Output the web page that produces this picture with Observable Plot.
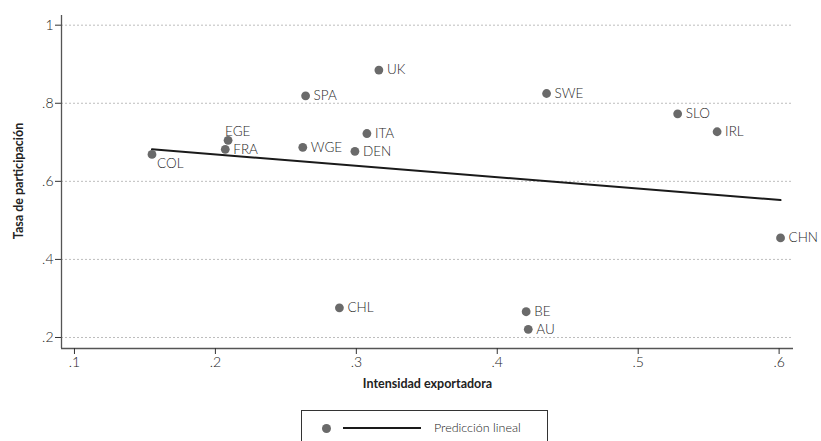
<!DOCTYPE html>
<html>
<head>
<meta charset="utf-8">
<script src="https://cdn.jsdelivr.net/npm/d3@7"></script>
<script src="https://cdn.jsdelivr.net/npm/@observablehq/plot@0.6"></script>
<style>
  body { margin: 0; background: #fff; font-family: Lato, "Open Sans", sans-serif; }
  #wrap { position: relative; width: 821px; height: 441px; overflow: hidden; background: #fff; }
  #ytitle { position: absolute; left: 18px; top: 181px; transform: translate(-50%, -50%) rotate(-90deg); white-space: nowrap; font-weight: bold; font-size: 12.5px; color: #222; font-family: Lato, sans-serif; }
  #legend { position: absolute; left: 301px; top: 410px; width: 247px; height: 42px; border: 1px solid #333; box-sizing: border-box; }
  #legend .dot { position: absolute; left: 20px; top: 13px; width: 9px; height: 9px; border-radius: 50%; background: #6a6a6a; }
  #legend .ln { position: absolute; left: 41px; top: 16px; width: 78px; height: 2px; background: #1a1a1a; }
  #legend .tx { position: absolute; left: 132px; top: 9px; font-size: 12.5px; font-weight: 300; color: #222; font-family: Lato, sans-serif; }
</style>
</head>
<body>
<div id="wrap">
  <div id="chart"></div>
  <div id="ytitle">Tasa de participación</div>
  <div id="legend"><div class="dot"></div><div class="ln"></div><div class="tx">Predicción lineal</div></div>
</div>
<script>
// Data
const countries = ["COL","EGE","FRA","SPA","WGE","UK","ITA","DEN","SWE","SLO","IRL","CHN","CHL","BE","AU"];
const exportIntensity = [0.155,0.209,0.207,0.264,0.262,0.316,0.3075,0.299,0.435,0.528,0.556,0.601,0.288,0.4205,0.422];
const participation = [0.669,0.705,0.682,0.819,0.687,0.885,0.7225,0.677,0.825,0.773,0.727,0.455,0.276,0.266,0.221];
// Linear prediction endpoints
const fitX = [0.155, 0.601];
const fitY = [0.682, 0.552];
const xTicks = [0.1, 0.2, 0.3, 0.4, 0.5, 0.6];
const yTicks = [0.2, 0.4, 0.6, 0.8, 1];
const xDomain = [0.0908, 0.6102];
const yDomain = [0.1718, 1.0248];
const labelPlacement = {COL: "below", EGE: "above"};

const points = countries.map((c, i) => ({c, x: exportIntensity[i], y: participation[i]}));
const fit = fitX.map((x, i) => ({x, y: fitY[i]}));
const fmt = d => d === 1 ? "1" : String(d).replace(/^0\./, ".");

const chart = Plot.plot({
  width: 821,
  height: 400,
  marginLeft: 61,
  marginRight: 28,
  marginTop: 15,
  marginBottom: 52,
  style: {fontFamily: "Lato, sans-serif", fontSize: "13px", color: "#333", background: "#fff"},
  x: {domain: xDomain, ticks: xTicks},
  y: {domain: yDomain, ticks: yTicks},
  marks: [
    Plot.gridY(yTicks, {stroke: "#bdbdbd", strokeOpacity: 1, strokeDasharray: "2,2"}),
    Plot.ruleX([xDomain[0]], {stroke: "#555", strokeWidth: 1.3}),
    Plot.ruleY([yDomain[0]], {stroke: "#555", strokeWidth: 1.3}),
    Plot.axisX(xTicks, {tickFormat: fmt, tickSize: 6, tickPadding: 3, stroke: "#333", fill: "#222", fontSize: 14, fontWeight: 300, label: null}),
    Plot.axisY(yTicks, {tickFormat: fmt, tickSize: 6, tickPadding: 2, stroke: "#333", fill: "#222", fontSize: 14, fontWeight: 300, label: null}),
    Plot.text(["Intensidad exportadora"], {frameAnchor: "bottom", dy: 39, fontWeight: "bold", fontSize: 12.5, fill: "#222"}),
    Plot.line(fit, {x: "x", y: "y", stroke: "#1a1a1a", strokeWidth: 2}),
    Plot.dot(points, {x: "x", y: "y", r: 4.4, fill: "#6a6a6a", stroke: "none"}),
    Plot.text(points.filter(d => !labelPlacement[d.c]), {x: "x", y: "y", text: "c", textAnchor: "start", dx: 8, fill: "#1f1f1f", fontSize: 13.5, fontWeight: 300}),
    Plot.text(points.filter(d => labelPlacement[d.c] === "below"), {x: "x", y: "y", text: "c", textAnchor: "start", dx: 5, dy: 9, fill: "#1f1f1f", fontSize: 13.5, fontWeight: 300}),
    Plot.text(points.filter(d => labelPlacement[d.c] === "above"), {x: "x", y: "y", text: "c", textAnchor: "start", dx: -3, dy: -9, fill: "#1f1f1f", fontSize: 13.5, fontWeight: 300})
  ]
});
document.getElementById("chart").appendChild(chart);
</script>
</body>
</html>
